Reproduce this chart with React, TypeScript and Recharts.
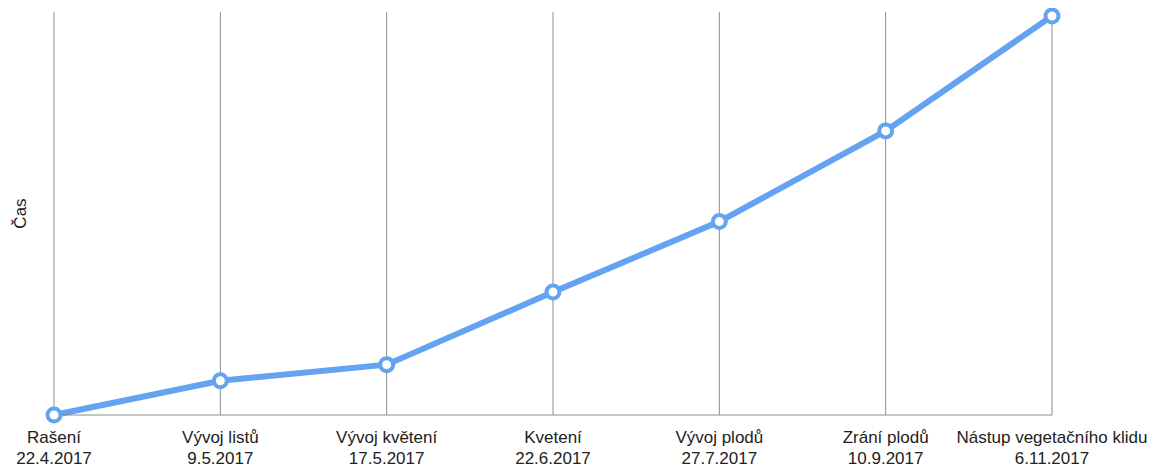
import React from 'react'
import { LineChart, Line, XAxis, YAxis, CartesianGrid } from 'recharts'

// fenologické fáze a data nástupu
const phases = ['Rašení', 'Vývoj listů', 'Vývoj květení', 'Kvetení', 'Vývoj plodů', 'Zrání plodů', 'Nástup vegetačního klidu']
const dates = ['22.4.2017', '9.5.2017', '17.5.2017', '22.6.2017', '27.7.2017', '10.9.2017', '6.11.2017']
// počet dní od rašení
const days = [0, 17, 25, 61, 96, 141, 198]

const data = phases.map((p, i) => ({ name: p, date: dates[i], days: days[i] }))

const FONT = '"Liberation Sans", Arial, Helvetica, sans-serif'

function PhaseTick(props: any) {
  const { x, y, payload } = props
  const row = data[payload.index]
  return (
    <text x={x} y={y} textAnchor="middle" fontFamily={FONT} fontSize={17} fill="#222">
      <tspan x={x} dy={20}>{row.name}</tspan>
      <tspan x={x} dy={20.5}>{row.date}</tspan>
    </text>
  )
}

function AxisTitle(props: any) {
  const { viewBox } = props
  const cx = 20
  const cy = viewBox.y + viewBox.height / 2
  return (
    <text x={cx} y={cy} transform={`rotate(-90 ${cx} ${cy})`} textAnchor="middle" dominantBaseline="central"
      fontFamily={FONT} fontSize={17} fill="#222">
      Čas
    </text>
  )
}

export default function App() {
  return (
    <div style={{ margin: '-8px 0 0 -8px', width: 1171, height: 473 }}>
      <LineChart width={1171} height={473} data={data} margin={{ top: 12, right: 119, left: 0, bottom: 28 }}>
        <CartesianGrid vertical horizontal={false} stroke="#8c8c8c" strokeWidth={1} />
        <XAxis dataKey="name" height={30} axisLine={{ stroke: '#8c8c8c' }} tickLine={false} tick={<PhaseTick />} interval={0} />
        <YAxis width={54} domain={[0, 200]} tick={false} axisLine={false} tickLine={false}
          label={<AxisTitle />} />
        <Line type="linear" dataKey="days" stroke="#63a3f1" strokeWidth={6}
          dot={{ r: 6.5, stroke: '#63a3f1', strokeWidth: 4, fill: '#fff' }}
          activeDot={false} isAnimationActive={false} />
      </LineChart>
    </div>
  )
}
